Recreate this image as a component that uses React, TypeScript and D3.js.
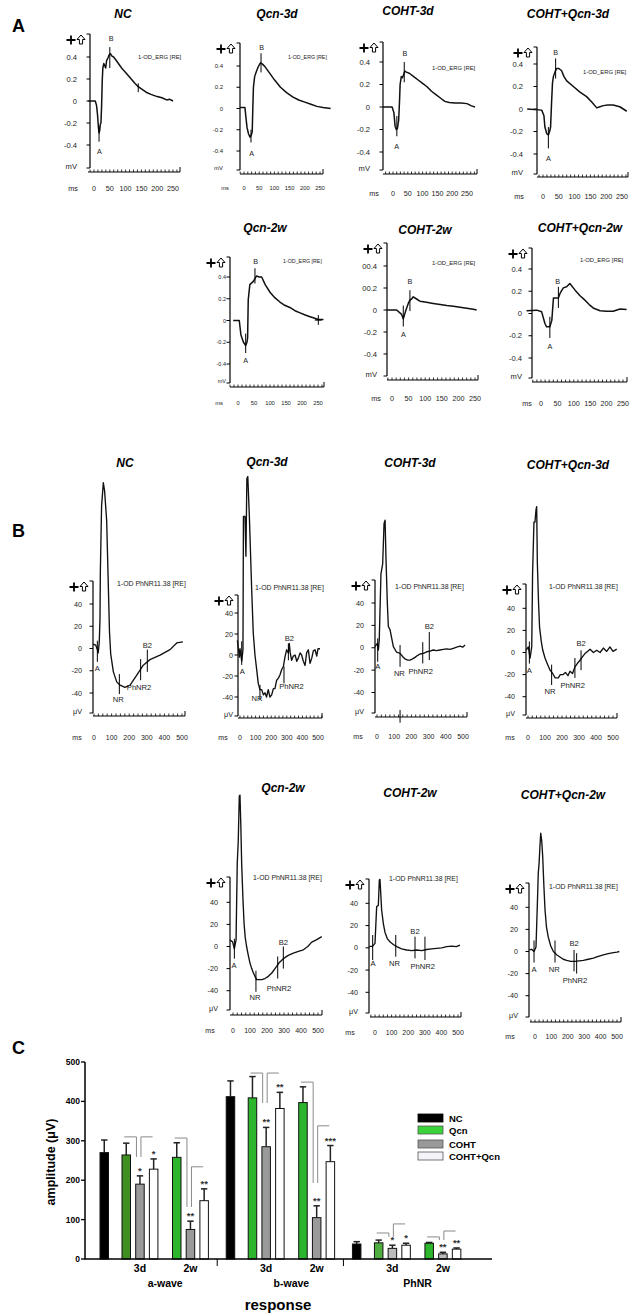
import { useEffect, useRef } from "react";
import * as d3 from "d3";

type Pt = [number, number];
type Mark = { t: number; v1: number; v2: number; label?: string; lt?: number; lv?: number; cross?: boolean };

// ---------- panel A: flash ERG traces (ms, mV) ----------
const A_NC: Pt[] = [[-18,0],[4,0],[8,-0.04],[11,-0.12],[14,-0.24],[16,-0.29],[18,-0.27],[20,-0.21],[22,-0.2],[24,-0.05],[26,0.18],[28,0.3],[31,0.34],[34,0.32],[37,0.3],[40,0.37],[44,0.39],[48,0.42],[52,0.43],[56,0.41],[62,0.4],[70,0.37],[80,0.33],[90,0.29],[100,0.26],[115,0.21],[130,0.16],[140,0.13],[150,0.11],[165,0.08],[180,0.06],[200,0.04],[215,0.03],[230,0.01],[240,0.015],[250,0]];
const A_NC_MARKS: Mark[] = [
  { t: 16, v1: -0.23, v2: -0.37, label: "A", lt: 17, lv: -0.46 },
  { t: 50, v1: 0.49, v2: 0.3, label: "B", lt: 54, lv: 0.57 },
  { t: 140, v1: 0.16, v2: 0.08 },
];
const A_QCN3D: Pt[] = [[-13,0.01],[3,0.01],[7,-0.1],[10,-0.18],[15,-0.24],[20,-0.27],[24,-0.25],[27,-0.22],[29,0],[31,0.2],[35,0.3],[41,0.35],[48,0.4],[54,0.43],[60,0.42],[70,0.39],[85,0.33],[100,0.27],[120,0.2],[140,0.15],[160,0.11],[180,0.08],[200,0.06],[220,0.04],[240,0.02],[260,0.01],[285,0]];
const A_QCN3D_MARKS: Mark[] = [
  { t: 23, v1: -0.2, v2: -0.32, label: "A", lt: 25, lv: -0.42 },
  { t: 56, v1: 0.52, v2: 0.34, label: "B", lt: 58, lv: 0.57 },
];
const A_COHT3D: Pt[] = [[-34,0],[-3,0],[3,-0.05],[7,-0.17],[11,-0.2],[15,-0.19],[19,-0.12],[22,0.05],[24,0.2],[28,0.27],[32,0.26],[36,0.29],[40,0.32],[45,0.31],[55,0.3],[70,0.27],[85,0.24],[100,0.21],[115,0.18],[130,0.14],[145,0.11],[160,0.08],[175,0.05],[190,0.04],[210,0.035],[230,0.035],[250,0.03],[265,0.01],[277,0]];
const A_COHT3D_MARKS: Mark[] = [
  { t: 13, v1: -0.08, v2: -0.26, label: "A", lt: 12, lv: -0.35 },
  { t: 38, v1: 0.4, v2: 0.22, label: "B", lt: 40, lv: 0.48 },
];
const A_CQ3D: Pt[] = [[-50,0],[-4,-0.01],[3,-0.06],[6,-0.16],[12,-0.22],[17,-0.23],[21,-0.2],[24,-0.16],[27,0.05],[30,0.23],[33,0.29],[38,0.33],[43,0.36],[50,0.36],[59,0.34],[66,0.29],[75,0.25],[96,0.2],[117,0.15],[138,0.11],[155,0.06],[170,0.01],[180,0.02],[191,0.03],[205,0.035],[222,0.035],[243,0.02],[265,-0.02]];
const A_CQ3D_MARKS: Mark[] = [
  { t: 17, v1: -0.16, v2: -0.35, label: "A", lt: 17, lv: -0.44 },
  { t: 40, v1: 0.45, v2: 0.27, label: "B", lt: 40, lv: 0.5 },
];
const A_QCN2W: Pt[] = [[-15,0],[4,0],[9,-0.13],[17,-0.2],[24,-0.23],[28,-0.2],[30,-0.16],[32,0.19],[37,0.33],[48,0.36],[58,0.41],[66,0.4],[74,0.4],[85,0.33],[100,0.26],[115,0.21],[131,0.17],[146,0.14],[162,0.12],[178,0.09],[194,0.07],[210,0.05],[225,0.035],[240,0.02],[251,0.01],[267,0.01]];
const A_QCN2W_MARKS: Mark[] = [
  { t: 24, v1: -0.12, v2: -0.3, label: "A", lt: 24, lv: -0.37 },
  { t: 53, v1: 0.48, v2: 0.34, label: "B", lt: 55, lv: 0.54 },
  { t: 251, v1: 0.05, v2: -0.04, cross: true },
];
const A_COHT2W: Pt[] = [[-16,0],[14,0],[29,-0.04],[34,-0.08],[38,-0.04],[42,0],[49,0.06],[54,0.09],[59,0.1],[64,0.12],[74,0.1],[84,0.08],[104,0.07],[124,0.06],[145,0.05],[165,0.04],[185,0.035],[205,0.025],[225,0.015],[245,0.006],[255,0]];
const A_COHT2W_MARKS: Mark[] = [
  { t: 34, v1: 0.04, v2: -0.15, label: "A", lt: 34, lv: -0.22 },
  { t: 54, v1: 0.18, v2: -0.01, label: "B", lt: 54, lv: 0.26 },
];
const A_CQ2W: Pt[] = [[-44,0.025],[-13,0.03],[2,0.015],[12,-0.09],[17,-0.12],[27,-0.12],[33,-0.06],[38,0.14],[48,0.14],[53,0.14],[58,0.18],[68,0.23],[78,0.24],[88,0.27],[104,0.21],[119,0.16],[134,0.12],[147,0.08],[159,0.05],[180,0.025],[200,0.02],[220,0.02],[241,0.04],[261,0.035]];
const A_CQ2W_MARKS: Mark[] = [
  { t: 27, v1: -0.03, v2: -0.22, label: "A", lt: 27, lv: -0.3 },
  { t: 53, v1: 0.24, v2: 0.05, label: "B", lt: 51, lv: 0.29 },
];

// ---------- panel B: PhNR traces (ms, µV) ----------
const B_NC: Pt[] = [[-5,4],[10,3],[19,-1],[24,-4],[30,6],[34,26],[36,68],[43,128],[53,149],[60,142],[72,115],[80,65],[88,15],[95,-5],[110,-21],[129,-30],[148,-33],[176,-35],[205,-33],[243,-24],[280,-15],[318,-10],[375,-6],[432,-1],[470,5],[505,6]];
const B_NC_MARKS: Mark[] = [
  { t: 19, v1: 7, v2: -12, label: "A", lt: 19, lv: -18 },
  { t: 144, v1: -23, v2: -41, label: "NR", lt: 138, lv: -46 },
  { t: 265, v1: -9.5, v2: -28.5, label: "PhNR2", lt: 256, lv: -35 },
  { t: 303, v1: -1, v2: -21, label: "B2", lt: 303, lv: 3 },
];
const B_QCN3D: Pt[] = [[-17,14],[-4,-2],[0,6],[11,-6],[19,5],[22,132],[32,132],[38,94],[44,168],[50,170],[60,132],[75,62],[85,21],[96,0],[107,-14],[117,-27],[128,-33],[139,-33],[150,-38],[160,-36],[170,-40],[181,-33],[192,-40],[203,-38],[214,-32],[224,-32],[235,-24],[246,-22],[256,-19],[267,-14],[278,-11],[288,-2],[299,5],[310,2],[316,11],[322,2],[331,-5],[342,-1],[353,0],[364,-6],[374,-3],[385,2],[395,0],[406,-6],[417,-10],[427,2],[438,5],[449,-8],[460,-3],[470,4],[481,5],[492,-1],[500,6],[513,6]];
const B_QCN3D_MARKS: Mark[] = [
  { t: 11, v1: 13, v2: -9.5, label: "A", lt: 14, lv: -16 },
  { t: 128, v1: -28.5, v2: -43, label: "NR", lt: 109, lv: -41 },
  { t: 282, v1: -11, v2: -27, label: "PhNR2", lt: 330, lv: -30 },
  { t: 310, v1: 11, v2: -5, label: "B2", lt: 316, lv: 16 },
];
const B_COHT3D: Pt[] = [[-12,1],[2,4],[8,-2],[13,7],[23,66],[33,75],[41,111],[47,114],[52,81],[60,40],[66,19],[76,16],[95,1],[114,-4],[134,-5],[150,-8],[163,-10],[178,-11],[192,-11],[207,-10],[221,-8.6],[235,-7],[250,-5.6],[270,-5],[289,-3.6],[308,-3],[327,-2],[346,-2.5],[366,-2],[385,-1.5],[405,-1],[424,-1.5],[444,-0.5],[463,0.5],[483,1.5],[498,0.5],[512,2.4]];
const B_COHT3D_MARKS: Mark[] = [
  { t: 4, v1: 8.4, v2: -12.5, label: "A", lt: 4, lv: -17 },
  { t: 134, v1: 2.4, v2: -17, label: "NR", lt: 130, lv: -23 },
  { t: 266, v1: 5, v2: -14, label: "PhNR2", lt: 254, lv: -21.5 },
  { t: 304, v1: 14, v2: -11, label: "B2", lt: 304, lv: 19 },
  { t: 134, v1: -55.6, v2: -67 },
];
const B_CQ3D: Pt[] = [[-12,2],[2,5],[12,-5],[22,5],[27,72],[35,118],[41,118],[47,129],[51,132],[55,81],[62,45],[68,23],[78,10],[87,2],[100,-5],[116,-11],[130,-16],[145,-19],[160,-23],[178,-23],[190,-20],[207,-20],[220,-18],[235,-21],[247,-17],[262,-19],[276,-13],[290,-10],[306,-7],[320,-4],[335,-1],[350,1],[365,3],[385,0],[404,2],[424,0],[443,4],[463,1],[482,5],[500,1],[522,3]];
const B_CQ3D_MARKS: Mark[] = [
  { t: 8, v1: 10, v2: -10, label: "A", lt: 8, lv: -16 },
  { t: 139, v1: -11, v2: -29.4, label: "NR", lt: 130, lv: -35.5 },
  { t: 276, v1: -5, v2: -23, label: "PhNR2", lt: 263, lv: -30 },
  { t: 312, v1: 2, v2: -16, label: "B2", lt: 312, lv: 8 },
];
const B_QCN2W: Pt[] = [[-18,6],[-2,4],[8,-2],[18,6],[25,75],[31,96],[37,136],[41,137],[46,110],[51,75],[58,45],[65,21],[72,8],[80,0],[90,-8],[100,-15],[110,-20],[120,-24],[139,-30],[169,-30],[188,-29],[208,-27],[228,-24],[247,-20],[270,-15],[296,-11],[325,-8],[355,-6],[385,-4.5],[414,-3],[440,0],[463,4],[490,6],[522,9]];
const B_QCN2W_MARKS: Mark[] = [
  { t: 8, v1: 7, v2: -11, label: "A", lt: 6, lv: -17.6 },
  { t: 135, v1: -22, v2: -41, label: "NR", lt: 130, lv: -46 },
  { t: 263, v1: -9, v2: -29, label: "PhNR2", lt: 270, lv: -38 },
  { t: 296, v1: 0, v2: -20, label: "B2", lt: 296, lv: 4 },
];
const B_COHT2W: Pt[] = [[-36,1],[-14,1.5],[0,4],[10,37],[20,38],[26,61],[30,61.5],[40,34],[50,22],[60,14],[75,8],[90,5.5],[110,3],[131,1],[160,-1],[191,-2],[221,-2.5],[251,-2],[281,-2.5],[311,-1.5],[341,-1],[371,-0.5],[402,0],[432,1],[462,1.5],[490,1],[512,2.5]];
const B_COHT2W_MARKS: Mark[] = [
  { t: -14, v1: 11.5, v2: -11, label: "A", lt: -12, lv: -14 },
  { t: 125, v1: 11.5, v2: -8, label: "NR", lt: 117, lv: -14 },
  { t: 241, v1: 10, v2: -9.5, label: "B2", lt: 241, lv: 15 },
  { t: 301, v1: 10, v2: -11, label: "PhNR2", lt: 287, lv: -17 },
];
const B_CQ2W: Pt[] = [[-35,1.4],[-20,2],[-6,0],[6,4],[14,41],[20,71],[25,80],[30,95],[35,107],[41,100],[47,86],[54,60],[61,38],[70,22],[81,13],[96,5],[112,0],[132,-3],[152,-5],[172,-7],[193,-8],[218,-9],[244,-9],[270,-8.5],[295,-8],[325,-7],[356,-6],[386,-4.5],[417,-3],[447,-2],[478,-1],[500,-0.5],[514,0]];
const B_CQ2W_MARKS: Mark[] = [
  { t: -6, v1: 10, v2: -10, label: "A", lt: -6, lv: -16 },
  { t: 122, v1: 10, v2: -10, label: "NR", lt: 118, lv: -16 },
  { t: 238, v1: 1.4, v2: -18, label: "B2", lt: 238, lv: 7 },
  { t: 254, v1: -1.5, v2: -20, label: "PhNR2", lt: 244, lv: -26 },
];

const ERG_YTICKS = [0.4, 0.2, 0, -0.2, -0.4];
const ERG_YLABELS = ["0.4", "0.2", "0", "-0.2", "-0.4"];
const ERG_YLABELS_ALT = ["00.4", "00.2", "0", "-0.2", "-0.4"];
const ERG_XTICKS = [0, 50, 100, 150, 200, 250];
const PHNR_YTICKS = [40, 20, 0, -20, -40];
const PHNR_YLABELS = ["40", "20", "0", "-20", "-40"];
const PHNR_XTICKS = [0, 100, 200, 300, 400, 500];

// ---------- panel C: amplitudes (µV) ----------
const RESPONSES = ["a-wave", "b-wave", "PhNR"];
const PERIODS = ["3d", "2w"];
const CONDITIONS = ["NC", "Qcn", "COHT", "COHT+Qcn"];
const NC_MEAN = [270, 412, 38];
const NC_ERR = [32, 40, 6];
const QCN_3D = [264, 409, 41];
const QCN_3D_ERR = [30, 54, 7];
const COHT_3D = [190, 285, 27];
const COHT_3D_ERR = [21, 49, 8];
const CQ_3D = [228, 382, 35];
const CQ_3D_ERR = [26, 41, 5];
const QCN_2W = [258, 397, 40];
const QCN_2W_ERR = [37, 40, 2];
const COHT_2W = [75, 105, 13];
const COHT_2W_ERR = [21, 30, 4];
const CQ_2W = [148, 247, 25];
const CQ_2W_ERR = [30, 41, 3];
const STARS_COHT_3D = ["*", "**", "*"];
const STARS_CQ_3D = ["*", "**", "*"];
const STARS_COHT_2W = ["**", "**", "**"];
const STARS_CQ_2W = ["**", "***", "**"];
// bracket levels [Qcn line, low end, COHT+Qcn line]
const BRACKETS_3D = [[310, 259, 310], [472, 396, 472], [66, 56, 89]];
const BRACKETS_2W = [[307, 132, 234], [449, 193, 338], [56, 48, 71]];

const FONT = "'Liberation Sans', Arial, Helvetica, sans-serif";
const NARROW = "'Liberation Sans Narrow', 'Liberation Sans', Arial, sans-serif";

type Panel = {
  kind: "erg" | "phnr"; title: string; tx: number; ty: number;
  ax: number; yTop: number; yBot: number; xa: number; xs: number; xe: number;
  xr: [number, number]; yr: [number, number]; lx: number; labelY: number; msX: number;
  fs: number; xfs: number; annot: [number, number]; afs: number;
  trace: Pt[]; marks: Mark[]; ylabels: string[];
};

const PANELS: Panel[] = [
  { kind: "erg", title: "NC", tx: 123, ty: 18, ax: 90, yTop: 34, yBot: 168, xa: 172, xs: 88, xe: 180, xr: [94, 173], yr: [57, 145], lx: 77, labelY: 188, msX: 73, fs: 7.6, xfs: 7.2, annot: [138, 57], afs: 5.9, trace: A_NC, marks: A_NC_MARKS, ylabels: ERG_YLABELS },
  { kind: "erg", title: "Qcn-3d", tx: 277, ty: 18, ax: 240, yTop: 43, yBot: 170, xa: 174, xs: 240, xe: 323, xr: [244, 320], yr: [66, 151], lx: 223, labelY: 188, msX: 225, fs: 6, xfs: 5.8, annot: [288, 57], afs: 5.3, trace: A_QCN3D, marks: A_QCN3D_MARKS, ylabels: ERG_YLABELS },
  { kind: "erg", title: "COHT-3d", tx: 408, ty: 15, ax: 383, yTop: 42, yBot: 170, xa: 174, xs: 383, xe: 477, xr: [393, 467], yr: [62, 152], lx: 370, labelY: 193, msX: 374, fs: 7.6, xfs: 7.2, annot: [432, 68], afs: 5.9, trace: A_COHT3D, marks: A_COHT3D_MARKS, ylabels: ERG_YLABELS },
  { kind: "erg", title: "COHT+Qcn-3d", tx: 568, ty: 18, ax: 537, yTop: 47, yBot: 174, xa: 177, xs: 537, xe: 628, xr: [543, 622], yr: [64, 154], lx: 523, labelY: 196, msX: 519, fs: 7.6, xfs: 7.2, annot: [583, 72], afs: 5.9, trace: A_CQ3D, marks: A_CQ3D_MARKS, ylabels: ERG_YLABELS },
  { kind: "erg", title: "Qcn-2w", tx: 265, ty: 232, ax: 230, yTop: 257, yBot: 383, xa: 387, xs: 230, xe: 324, xr: [238, 318], yr: [277, 364], lx: 226, labelY: 403, msX: 219, fs: 5.5, xfs: 5.8, annot: [283, 261], afs: 5.3, trace: A_QCN2W, marks: A_QCN2W_MARKS, ylabels: ERG_YLABELS },
  { kind: "erg", title: "COHT-2w", tx: 425, ty: 234, ax: 387, yTop: 243, yBot: 376, xa: 380, xs: 387, xe: 478, xr: [392, 475], yr: [266, 354], lx: 377, labelY: 398, msX: 376, fs: 7.6, xfs: 7.2, annot: [432, 263], afs: 5.9, trace: A_COHT2W, marks: A_COHT2W_MARKS, ylabels: ERG_YLABELS_ALT },
  { kind: "erg", title: "COHT+Qcn-2w", tx: 580, ty: 232, ax: 532, yTop: 248, yBot: 378, xa: 382, xs: 532, xe: 627, xr: [541, 623], yr: [269, 358], lx: 522, labelY: 403, msX: 527, fs: 7.6, xfs: 7.2, annot: [580, 260], afs: 5.9, trace: A_CQ2W, marks: A_CQ2W_MARKS, ylabels: ERG_YLABELS },

  { kind: "phnr", title: "NC", tx: 125, ty: 467, ax: 93, yTop: 581, yBot: 713, xa: 716, xs: 93, xe: 185, xr: [94, 182], yr: [604, 693], lx: 82, labelY: 737, msX: 77, fs: 7.2, xfs: 7, annot: [117, 583], afs: 6.9, trace: B_NC, marks: B_NC_MARKS, ylabels: PHNR_YLABELS },
  { kind: "phnr", title: "Qcn-3d", tx: 267, ty: 466, ax: 238, yTop: 595, yBot: 716, xa: 718, xs: 238, xe: 322, xr: [240, 318], yr: [613, 697], lx: 233, labelY: 737, msX: 223, fs: 7.2, xfs: 7, annot: [255, 587], afs: 6.9, trace: B_QCN3D, marks: B_QCN3D_MARKS, ylabels: PHNR_YLABELS },
  { kind: "phnr", title: "COHT-3d", tx: 410, ty: 467, ax: 375, yTop: 580, yBot: 713, xa: 717, xs: 375, xe: 467, xr: [377, 463], yr: [603, 692.5], lx: 364, labelY: 736, msX: 358, fs: 7.2, xfs: 7, annot: [395, 586], afs: 6.9, trace: B_COHT3D, marks: B_COHT3D_MARKS, ylabels: PHNR_YLABELS },
  { kind: "phnr", title: "COHT+Qcn-3d", tx: 568, ty: 469, ax: 526, yTop: 584, yBot: 715, xa: 718, xs: 526, xe: 617, xr: [528, 613], yr: [608.3, 696.7], lx: 515, labelY: 737, msX: 510, fs: 7.2, xfs: 7, annot: [549, 586], afs: 6.9, trace: B_CQ3D, marks: B_CQ3D_MARKS, ylabels: PHNR_YLABELS },
  { kind: "phnr", title: "Qcn-2w", tx: 283, ty: 792, ax: 230, yTop: 877, yBot: 1010, xa: 1015, xs: 230, xe: 322, xr: [233, 318], yr: [902.3, 990.7], lx: 218, labelY: 1030, msX: 210, fs: 7.2, xfs: 7, annot: [253, 877], afs: 6.9, trace: B_QCN2W, marks: B_QCN2W_MARKS, ylabels: PHNR_YLABELS },
  { kind: "phnr", title: "COHT-2w", tx: 410, ty: 797, ax: 369, yTop: 879, yBot: 1013, xa: 1017, xs: 370, xe: 461, xr: [375, 458], yr: [903.3, 992.3], lx: 358, labelY: 1032, msX: 350, fs: 7.2, xfs: 7, annot: [389, 878], afs: 6.9, trace: B_COHT2W, marks: B_COHT2W_MARKS, ylabels: PHNR_YLABELS },
  { kind: "phnr", title: "COHT+Qcn-2w", tx: 563, ty: 799, ax: 529, yTop: 883, yBot: 1017, xa: 1022, xs: 530, xe: 621, xr: [535, 617], yr: [907.3, 995.7], lx: 518, labelY: 1036, msX: 510, fs: 7.2, xfs: 7, annot: [549, 886], afs: 6.9, trace: B_CQ2W, marks: B_CQ2W_MARKS, ylabels: PHNR_YLABELS },
];

function drawTrace(svg: any, p: Panel) {
  const erg = p.kind === "erg";
  const x = d3.scaleLinear().domain(erg ? [0, 250] : [0, 500]).range(p.xr);
  const y = d3.scaleLinear().domain(erg ? [0.4, -0.4] : [40, -40]).range(p.yr);
  const yticks = erg ? ERG_YTICKS : PHNR_YTICKS;
  const g = svg.append("g").attr("font-family", FONT);

  g.append("text")
    .attr("x", p.tx).attr("y", p.ty)
    .attr("text-anchor", "middle")
    .attr("font-size", 12).attr("font-weight", "bold").attr("font-style", "italic")
    .text(p.title);

  // y axis
  g.append("line")
    .attr("x1", p.ax).attr("x2", p.ax).attr("y1", p.yTop).attr("y2", p.yBot)
    .attr("stroke", "#000").attr("stroke-width", 1.2);
  const tickYs = [p.yTop, ...yticks.map(v => y(v)), p.yBot];
  tickYs.forEach(ty => {
    g.append("line")
      .attr("x1", p.ax - 3.5).attr("x2", p.ax).attr("y1", ty).attr("y2", ty)
      .attr("stroke", "#000").attr("stroke-width", 1);
  });
  const lab = g.append("g").attr("font-family", NARROW).attr("font-size", p.fs).attr("fill", "#222");
  yticks.forEach((v, i) => {
    lab.append("text")
      .attr("x", p.lx).attr("y", y(v))
      .attr("text-anchor", "end").attr("dominant-baseline", "central")
      .text(p.ylabels[i]);
  });
  lab.append("text")
    .attr("x", p.lx).attr("y", p.yBot - 2)
    .attr("text-anchor", "end").attr("dominant-baseline", "central")
    .text(erg ? "mV" : "μV");

  // "+" and outlined arrow symbol
  const sy = p.yTop + 6;
  const sx = p.ax - 19;
  g.append("path")
    .attr("d", `M${sx - 4.5},${sy}H${sx + 4.5}M${sx},${sy - 4.5}V${sy + 4.5}`)
    .attr("stroke", "#000").attr("stroke-width", 1.8);
  const axr = p.ax - 9;
  g.append("path")
    .attr("d", `M${axr},${sy - 5}L${axr + 4},${sy - 0.5}H${axr + 1.6}V${sy + 4}H${axr - 1.6}V${sy - 0.5}H${axr - 4}Z`)
    .attr("fill", "#fff").attr("stroke", "#000").attr("stroke-width", 1);

  // x axis with minor ticks
  g.append("line")
    .attr("x1", p.xs).attr("x2", p.xe).attr("y1", p.xa).attr("y2", p.xa)
    .attr("stroke", "#000").attr("stroke-width", 1.2);
  const step = erg ? 12.5 : 25;
  const t0 = x.invert(p.xs);
  const t1 = x.invert(p.xe);
  d3.range(Math.ceil(t0 / step) * step, t1, step).forEach(t => {
    g.append("line")
      .attr("x1", x(t)).attr("x2", x(t)).attr("y1", p.xa).attr("y2", p.xa - 2.5)
      .attr("stroke", "#000").attr("stroke-width", 0.8);
  });
  g.append("line")
    .attr("x1", p.xe).attr("x2", p.xe).attr("y1", p.xa).attr("y2", p.xa - 5)
    .attr("stroke", "#000").attr("stroke-width", 1);
  const xl = g.append("g").attr("font-family", NARROW).attr("font-size", p.xfs).attr("fill", "#222");
  (erg ? ERG_XTICKS : PHNR_XTICKS).forEach(t => {
    xl.append("text")
      .attr("x", x(t)).attr("y", p.labelY)
      .attr("text-anchor", "middle").attr("dominant-baseline", "central")
      .text(t);
  });
  xl.append("text")
    .attr("x", p.msX).attr("y", p.labelY)
    .attr("text-anchor", "middle").attr("dominant-baseline", "central")
    .text("ms");

  // annotation
  g.append("text")
    .attr("x", p.annot[0]).attr("y", p.annot[1])
    .attr("dominant-baseline", "central")
    .attr("font-size", p.afs).attr("fill", "#222")
    .text(erg ? "1-OD_ERG [RE]" : "1-OD PhNR11.38 [RE]");

  // trace
  const line = d3.line<Pt>().x(d => x(d[0])).y(d => y(d[1]));
  g.append("path")
    .attr("d", line(p.trace))
    .attr("fill", "none").attr("stroke", "#111")
    .attr("stroke-width", erg ? 1.5 : 1.35).attr("stroke-linejoin", "round");

  // markers
  p.marks.forEach(m => {
    g.append("line")
      .attr("x1", x(m.t)).attr("x2", x(m.t)).attr("y1", y(m.v1)).attr("y2", y(m.v2))
      .attr("stroke", "#000").attr("stroke-width", 1);
    if (m.cross) {
      const cy = y((m.v1 + m.v2) / 2);
      g.append("line")
        .attr("x1", x(m.t) - 3.5).attr("x2", x(m.t) + 3.5).attr("y1", cy).attr("y2", cy)
        .attr("stroke", "#000").attr("stroke-width", 1.3);
    }
    if (m.label) {
      g.append("text")
        .attr("x", x(m.lt ?? m.t)).attr("y", y(m.lv ?? m.v2))
        .attr("text-anchor", "middle").attr("dominant-baseline", "central")
        .attr("font-size", erg ? 7.2 : 7.6).attr("fill", "#222")
        .text(m.label);
    }
  });
}

function drawBars(svg: any) {
  const g = svg.append("g").attr("font-family", FONT).attr("font-weight", "bold");
  const y = d3.scaleLinear().domain([0, 500]).range([1259, 1062]);
  const grp = d3.scaleBand().domain(RESPONSES).range([100, 463]).paddingInner(0.124);
  const BW = 8.5;
  const STEP = 13.7;
  const SUB: Record<string, number> = { NC: 0, "3d": 22, "2w": 72.5 };
  const barX = (r: string, period: string, ci: number) =>
    (grp(r) as number) + SUB[period] + (period === "NC" ? 0 : (ci - 1) * STEP);
  const fill = (r: string, period: string, ci: number) => {
    if (ci === 0) return "#000";
    if (ci === 1) return r === "a-wave" && period === "3d" ? "#3f8f22" : r === "PhNR" && period === "3d" ? "#4fae3f" : "#2db52d";
    if (ci === 2) return r === "PhNR" ? "#bcbcbc" : "#9a9a9a";
    return "#fff";
  };

  type Bar = { r: string; period: string; ci: number; v: number; e: number; star?: string };
  const bars: Bar[] = [];
  RESPONSES.forEach((r, ri) => {
    bars.push({ r, period: "NC", ci: 0, v: NC_MEAN[ri], e: NC_ERR[ri] });
    bars.push({ r, period: "3d", ci: 1, v: QCN_3D[ri], e: QCN_3D_ERR[ri] });
    bars.push({ r, period: "3d", ci: 2, v: COHT_3D[ri], e: COHT_3D_ERR[ri], star: STARS_COHT_3D[ri] });
    bars.push({ r, period: "3d", ci: 3, v: CQ_3D[ri], e: CQ_3D_ERR[ri], star: STARS_CQ_3D[ri] });
    bars.push({ r, period: "2w", ci: 1, v: QCN_2W[ri], e: QCN_2W_ERR[ri] });
    bars.push({ r, period: "2w", ci: 2, v: COHT_2W[ri], e: COHT_2W_ERR[ri], star: STARS_COHT_2W[ri] });
    bars.push({ r, period: "2w", ci: 3, v: CQ_2W[ri], e: CQ_2W_ERR[ri], star: STARS_CQ_2W[ri] });
  });

  bars.forEach(b => {
    const x0 = barX(b.r, b.period, b.ci);
    const cx = x0 + BW / 2;
    g.append("line")
      .attr("x1", cx).attr("x2", cx).attr("y1", y(b.v)).attr("y2", y(b.v + b.e))
      .attr("stroke", "#222").attr("stroke-width", 1.5);
    g.append("line")
      .attr("x1", cx - 3.2).attr("x2", cx + 3.2).attr("y1", y(b.v + b.e)).attr("y2", y(b.v + b.e))
      .attr("stroke", "#222").attr("stroke-width", 1.5);
    g.append("rect")
      .attr("x", x0).attr("y", y(b.v)).attr("width", BW).attr("height", y(0) - y(b.v))
      .attr("fill", fill(b.r, b.period, b.ci)).attr("stroke", "#111").attr("stroke-width", 1);
    if (b.star) {
      g.append("text")
        .attr("x", cx).attr("y", y(b.v + b.e) - 2)
        .attr("text-anchor", "middle").attr("font-size", 9.5).attr("fill", "#333")
        .text(b.star);
    }
  });

  // significance brackets
  const center = (r: string, period: string, ci: number) => barX(r, period, ci) + BW / 2;
  RESPONSES.forEach((r, ri) => {
    PERIODS.forEach(period => {
      const [ya, ylow, yb] = (period === "3d" ? BRACKETS_3D : BRACKETS_2W)[ri];
      const q = center(r, period, 1);
      const c = center(r, period, 2);
      const cq = center(r, period, 3);
      g.append("path")
        .attr("d", `M${q - 2},${y(ya)}H${c - 3.5}V${y(ylow)}`)
        .attr("fill", "none").attr("stroke", "#8a8a8a").attr("stroke-width", 1);
      g.append("path")
        .attr("d", `M${c + 1},${y(ylow)}V${y(yb)}H${cq - 1}`)
        .attr("fill", "none").attr("stroke", "#8a8a8a").attr("stroke-width", 1);
    });
  });

  // axes
  g.append("line").attr("x1", 85).attr("x2", 85).attr("y1", y(500)).attr("y2", y(0))
    .attr("stroke", "#000").attr("stroke-width", 1.5);
  g.append("line").attr("x1", 84.25).attr("x2", 492).attr("y1", y(0)).attr("y2", y(0))
    .attr("stroke", "#000").attr("stroke-width", 1.5);
  y.ticks(5).forEach(t => {
    g.append("line").attr("x1", 81).attr("x2", 85).attr("y1", y(t)).attr("y2", y(t))
      .attr("stroke", "#000").attr("stroke-width", 1.3);
    g.append("text").attr("x", 80).attr("y", y(t) + 3)
      .attr("text-anchor", "end").attr("font-size", 8.5).text(t);
  });
  RESPONSES.slice(1).forEach(r => {
    const sx = (grp(r) as number) - 9;
    g.append("line").attr("x1", sx).attr("x2", sx).attr("y1", y(0)).attr("y2", y(0) + 7)
      .attr("stroke", "#000").attr("stroke-width", 1);
  });
  RESPONSES.forEach(r => {
    PERIODS.forEach(period => {
      g.append("text").attr("x", center(r, period, 2)).attr("y", 1272)
        .attr("text-anchor", "middle").attr("font-size", 10.5).text(period);
    });
    g.append("text").attr("x", (center(r, "3d", 2) + center(r, "2w", 2)) / 2).attr("y", 1287)
      .attr("text-anchor", "middle").attr("font-size", 10.5).text(r);
  });
  g.append("text").attr("x", 278).attr("y", 1310)
    .attr("text-anchor", "middle").attr("font-size", 15).text("response");
  g.append("text").attr("transform", "translate(55,1162) rotate(-90)")
    .attr("text-anchor", "middle").attr("font-size", 12.5).text("amplitude (μV)");

  // legend
  const legFill = ["#000", "#3ad43a", "#999", "#f3f3f8"];
  const legY = [1114, 1126, 1140, 1152];
  CONDITIONS.forEach((c, i) => {
    g.append("rect").attr("x", 418).attr("y", legY[i]).attr("width", 25).attr("height", 8)
      .attr("fill", legFill[i]).attr("stroke", i === 0 ? "#000" : "#555").attr("stroke-width", 0.8);
    g.append("text").attr("x", 449).attr("y", legY[i] + 7.5)
      .attr("font-size", 9.5).text(c);
  });
}

export default function App() {
  const ref = useRef<SVGSVGElement>(null);

  useEffect(() => {
    const svg = d3.select(ref.current);
    svg.selectAll("*").remove();
    svg.append("rect").attr("width", 638).attr("height", 1316).attr("fill", "#fff");

    PANELS.forEach(p => drawTrace(svg, p));
    drawBars(svg);

    // panel letters
    [["A", 32], ["B", 537], ["C", 1054]].forEach(([t, yy]) => {
      svg.append("text")
        .attr("x", 12).attr("y", yy as number)
        .attr("font-family", FONT).attr("font-weight", "bold").attr("font-size", 18)
        .text(t as string);
    });
  }, []);

  return (
    <svg
      ref={ref}
      width={638}
      height={1316}
      style={{ position: "absolute", left: 0, top: 0, background: "#fff" }}
    />
  );
}
